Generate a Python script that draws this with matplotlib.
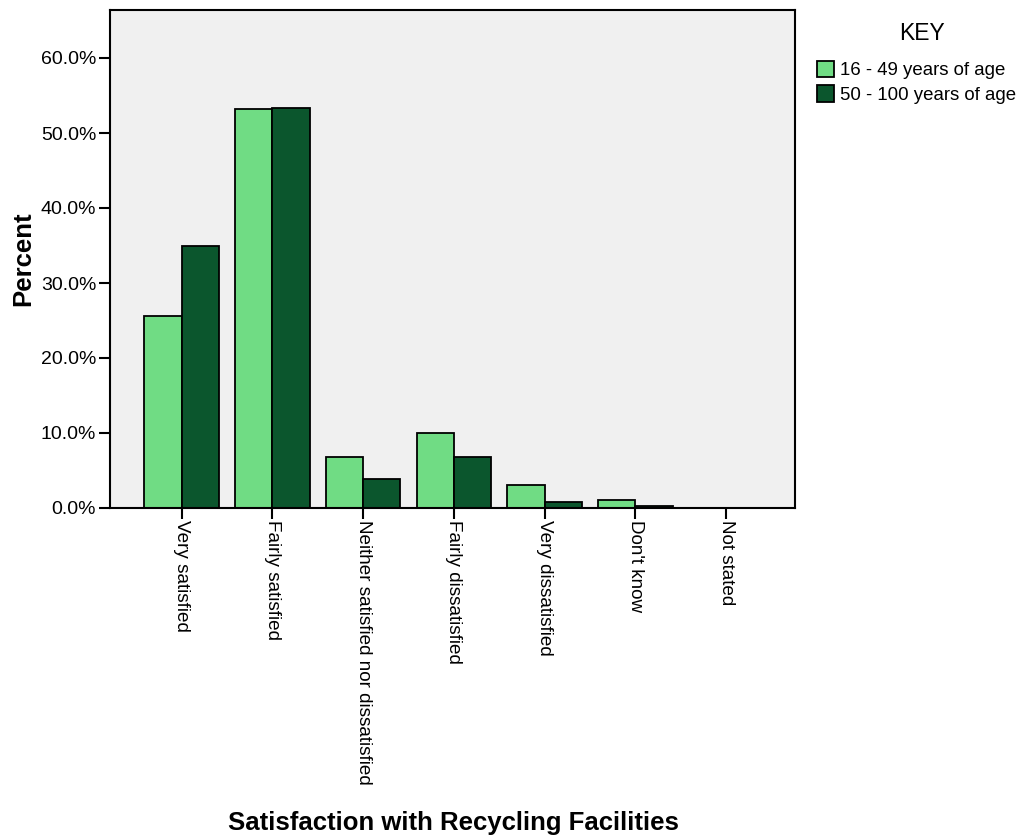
import numpy as np
from matplotlib import pyplot as plt
from matplotlib.ticker import FuncFormatter

plt.rcParams['font.family'] = ['Liberation Sans', 'DejaVu Sans']

categories = ["Very satisfied", "Fairly satisfied", "Neither satisfied nor dissatisfied",
              "Fairly dissatisfied", "Very dissatisfied", "Don't know", "Not stated"]
young = [25.6, 53.2, 6.8, 10.0, 3.1, 1.1, 0.0]
old = [34.9, 53.4, 3.8, 6.8, 0.8, 0.2, 0.0]
series_labels = ["16 - 49 years of age", "50 - 100 years of age"]

figure = plt.figure(figsize=(10.3, 8.4), dpi=100)
ax = figure.add_axes([110 / 1030, 1 - 508 / 840, 685 / 1030, 498 / 840])
ax.set_facecolor('#f0f0f0')

x = np.arange(len(categories))
w = 0.41
ax.bar(x - w / 2, young, w, color='#70dc84', edgecolor='black', linewidth=1.3, label=series_labels[0])
ax.bar(x + w / 2, old, w, color='#0b562d', edgecolor='black', linewidth=1.3, label=series_labels[1])

ax.set_xlim(-0.79, 6.76)
ax.set_ylim(0, 66.4)
ax.set_yticks(np.arange(0, 61, 10))
ax.yaxis.set_major_formatter(FuncFormatter(lambda v, p: f"{v:.1f}%"))
ax.set_xticks(x)
ax.set_xticklabels(categories, rotation=270, fontsize=13.6, va='top', ha='center')
ax.tick_params(axis='y', labelsize=14, length=8, width=1.5, pad=2)
ax.tick_params(axis='x', length=8, width=1.5, pad=1)
for s in ax.spines.values():
    s.set_linewidth(1.5)

ax.set_ylabel("Percent", fontsize=18.5, fontweight='bold', labelpad=4)
figure.text(453 / 1030, 1 - 823 / 840, "Satisfaction with Recycling Facilities",
            fontsize=18.5, fontweight='bold', ha='center', va='center')

figure.text(922 / 1030, 1 - 33 / 840, "KEY", fontsize=16.5, ha='center', va='center')
leg = figure.legend(loc='upper left', bbox_to_anchor=(800 / 1030, 1 - 44 / 840), frameon=False,
                    fontsize=13.4, handlelength=0.95, handleheight=1.0, handletextpad=0.3,
                    labelspacing=0.3)

plt.savefig("out.png", dpi=100)
